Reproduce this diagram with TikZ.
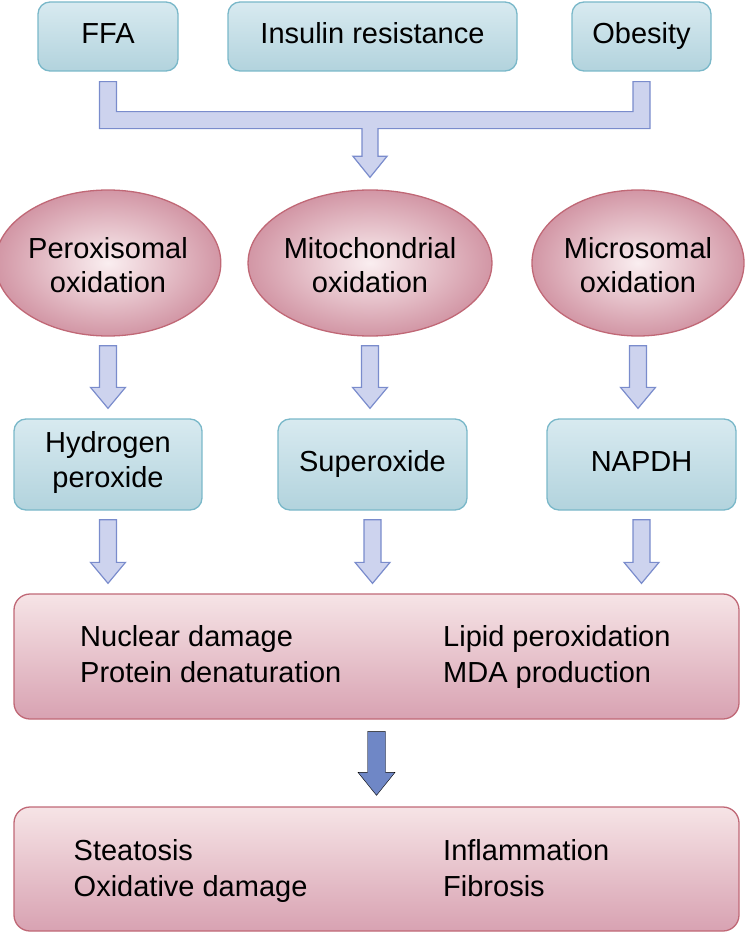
\documentclass[tikz,border=0pt]{standalone}
\usepackage{fontspec}
\setmainfont{Liberation Sans}
\usetikzlibrary{calc,shapes.geometric}
\definecolor{bluetop}{RGB}{216,234,240}
\definecolor{bluebot}{RGB}{178,211,221}
\definecolor{blueline}{RGB}{122,184,201}
\definecolor{pinkin}{RGB}{250,238,240}
\definecolor{pinkout}{RGB}{210,150,165}
\definecolor{pinkline}{RGB}{192,104,118}
\definecolor{pinktop}{RGB}{246,228,230}
\definecolor{pinkmid}{RGB}{240,214,218}
\definecolor{pinkbot}{RGB}{216,162,178}
\definecolor{arrowfill}{RGB}{205,211,238}
\definecolor{arrowline}{RGB}{122,140,204}
\definecolor{arrowdark}{RGB}{111,135,198}
\tikzset{
  txt/.style={font=\fontsize{29}{35}\selectfont,
    execute at begin node=\strut, execute at end node=\strut},
  bluebox/.style={txt, draw=blueline, line width=1.3pt, rounded corners=12pt,
    top color=bluetop, bottom color=bluebot, inner sep=0pt, align=center},
  pinkoval/.style={font=\fontsize{29}{34}\selectfont, ellipse, draw=pinkline, line width=1.3pt,
    inner color=pinkin, outer color=pinkout, minimum width=212, minimum height=146,
    inner sep=0pt, align=center},
  pinkbox/.style={draw=pinkline, line width=1.3pt, rounded corners=16pt,
    top color=pinktop, middle color=pinkmid, bottom color=pinkbot,
    minimum width=725, minimum height=125},
  coltext/.style={font=\fontsize{29}{36}\selectfont, inner sep=0pt, align=left,
    anchor=north west, execute at begin node=\strut},
  lightarrow/.style={draw=arrowline, fill=arrowfill, line width=1.2pt},
  darkarrow/.style={fill=arrowdark}
}
\newcommand\blockarrow[3]{%
  \draw[#1] let \p1=(#2.south), \p2=(#3.north) in
    (\x1-8.5pt,\y1-9pt) -- (\x1-8.5pt,\y2+31pt) -- (\x1-17.5pt,\y2+31pt) -- (\x1,\y2+10pt)
    -- (\x1+17.5pt,\y2+31pt) -- (\x1+8.5pt,\y2+31pt) -- (\x1+8.5pt,\y1-9pt) -- cycle;}
\begin{document}
\begin{tikzpicture}[x=1pt,y=-1pt]
\useasboundingbox (0,0) rectangle (750,933);
% causes
\node[bluebox, minimum width=140, minimum height=69] (ffa) at (108,36.5) {FFA};
\node[bluebox, minimum width=289, minimum height=69] (ins) at (372.5,36.5) {Insulin resistance};
\node[bluebox, minimum width=139, minimum height=69] (obe) at (641.5,36.5) {Obesity};
% oxidation pathways
\node[pinkoval] (per) at (108,263) {\rule{0pt}{26pt}Peroxisomal\\oxidation};
\node[pinkoval] (mit) at (370,263) {\rule{0pt}{26pt}Mitochondrial\\oxidation};
\node[pinkoval] (mic) at (638,263) {\rule{0pt}{26pt}Microsomal\\oxidation};
% products
\node[bluebox, minimum width=188, minimum height=91] (hyd) at (108,464.5) {Hydrogen\\peroxide};
\node[bluebox, minimum width=189, minimum height=91] (sup) at (372.5,464.5) {Superoxide};
\node[bluebox, minimum width=189, minimum height=91] (nap) at (641.5,464.5) {NAPDH};
% damage and outcome
\node[pinkbox] (dmg) at (376.5,656.5) {};
\node[coltext] (dmgL) at (80,625) {Nuclear damage\\Protein denaturation};
\node[coltext] (dmgR) at (443,625) {Lipid peroxidation\\MDA production};
\node[pinkbox, minimum height=124] (out) at (376.5,869) {};
\node[coltext] (outL) at (73.5,839) {Steatosis\\Oxidative damage};
\node[coltext] (outR) at (443,839) {Inflammation\\Fibrosis};
% merging arrow
\draw[lightarrow] let \p1=(ffa.south), \p2=(obe.south), \p3=(mit.north) in
  (\x1-8.5pt,\y1-10pt) -- (\x1+8.5pt,\y1-10pt) -- (\x1+8.5pt,\y1-40pt)
  -- (\x2-8.5pt,\y1-40pt) -- (\x2-8.5pt,\y1-10pt) -- (\x2+8.5pt,\y1-10pt)
  -- (\x2+8.5pt,\y1-57pt) -- (\x3+8pt,\y1-57pt) -- (\x3+8pt,\y3+33pt)
  -- (\x3+17pt,\y3+33pt) -- (\x3,\y3+12pt) -- (\x3-17pt,\y3+33pt)
  -- (\x3-8pt,\y3+33pt) -- (\x3-8pt,\y1-57pt) -- (\x1-8.5pt,\y1-57pt) -- cycle;
% single arrows
\blockarrow{lightarrow}{per}{hyd}
\blockarrow{lightarrow}{mit}{sup}
\blockarrow{lightarrow}{mic}{nap}
\blockarrow{lightarrow}{hyd}{dmg}
\blockarrow{lightarrow}{sup}{dmg}
\blockarrow{lightarrow}{nap}{dmg}
\draw[darkarrow] let \p1=(dmg.south), \p2=(out.north) in
  (\x1-9pt,\y1-12pt) -- (\x1-9pt,\y2+34pt) -- (\x1-18.5pt,\y2+34pt) -- (\x1,\y2+11pt)
  -- (\x1+18.5pt,\y2+34pt) -- (\x1+9pt,\y2+34pt) -- (\x1+9pt,\y1-12pt) -- cycle;
\end{tikzpicture}
\end{document}
